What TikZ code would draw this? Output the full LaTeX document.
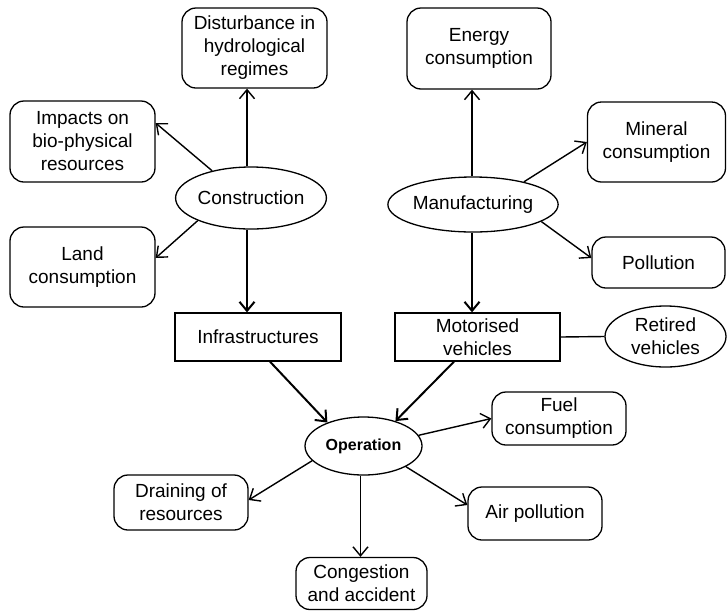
\documentclass[tikz,border=0pt]{standalone}
\usepackage{fontspec}
\setmainfont{Liberation Sans}
\usetikzlibrary{shapes.geometric,arrows.meta}
\begin{document}
\begin{tikzpicture}[x=1pt,y=-1pt,
  font=\fontsize{19}{23}\selectfont,
  rbox/.style={draw,line width=1.3pt,rounded corners=14pt,align=center,inner sep=0pt},
  sbox/.style={draw,line width=1.3pt,align=center,inner sep=0pt},
  ell/.style={draw,line width=1.3pt,ellipse,align=center,inner sep=0pt},
  arr/.style={line width=1.4pt,-{Straight Barb[length=9pt,width=15pt,line width=1.4pt]}},
  tarr/.style={line width=2pt,-{Straight Barb[length=9pt,width=15pt,line width=2pt]}},
  ln/.style={line width=1.4pt}]
\useasboundingbox (0,0) rectangle (727,611);
% nodes
\node[rbox,minimum width=145pt,minimum height=80pt] (dist) at (254.5,48) {Disturbance in\\hydrological\\regimes};
\node[rbox,minimum width=145pt,minimum height=81pt] (imp) at (82.5,141.5) {Impacts on\\bio-physical\\resources};
\node[rbox,minimum width=145pt,minimum height=80pt] (land) at (82.5,267) {Land\\consumption};
\node[ell,minimum width=142pt,minimum height=62pt] (cons) at (251,198) {Construction};
\node[sbox,minimum width=166pt,minimum height=48pt] (infra) at (258,337) {Infrastructures};
\node[ell,minimum width=117pt,minimum height=58pt,font=\fontsize{16}{20}\selectfont\bfseries] (oper) at (363.5,446) {Operation};
\node[rbox,minimum width=134pt,minimum height=55pt] (drain) at (181,502.5) {Draining of\\resources};
\node[rbox,minimum width=131pt,minimum height=52pt] (cong) at (361.5,583.5) {Congestion\\and accident};
\node[rbox,minimum width=144pt,minimum height=81pt] (energy) at (479,48.5) {Energy\\consumption};
\node[rbox,minimum width=138pt,minimum height=80pt] (mineral) at (656.5,142) {Mineral\\consumption};
\node[ell,minimum width=142pt,minimum height=55pt] (manu) at (473,204.5) {Manufacturing};
\node[rbox,minimum width=133pt,minimum height=51pt] (poll) at (658.5,262.5) {Pollution};
\node[sbox,minimum width=165pt,minimum height=48pt] (motor) at (477.5,337) {Motorised\\vehicles};
\node[ell,minimum width=121pt,minimum height=61pt] (ret) at (665.5,336.5) {Retired\\vehicles};
\node[rbox,minimum width=134pt,minimum height=53pt] (fuel) at (559,418.5) {Fuel\\consumption};
\node[rbox,minimum width=134pt,minimum height=53pt] (air) at (535,513.5) {Air pollution};
% connectors
\draw[arr] ([xshift=-4pt]cons.north) -- ([xshift=-4pt]cons.north |- dist.south);
\draw[arr] (cons.145.6) -- ([yshift=18.5pt]imp.east);
\draw[arr] (cons.203) -- ([yshift=9pt]land.east);
\draw[tarr] ([xshift=-4pt]cons.south) -- ([xshift=-4pt]cons.south |- infra.north);
\draw[arr] ([xshift=-1pt]manu.north) -- ([xshift=-1pt]manu.north |- energy.south);
\draw[arr] (manu.24.8) -- (mineral.west);
\draw[arr] (manu.-14.3) -- ([yshift=4.5pt]poll.west);
\draw[tarr] ([xshift=-1pt]manu.south) -- ([xshift=-1pt]manu.south |- motor.north);
\draw[ln] (motor.east) -- (ret.west);
\draw[tarr] ([xshift=12pt]infra.south) -- (oper.147);
\draw[tarr] ([xshift=-23.5pt]motor.south) -- (oper.38);
\draw[arr] (oper.11) -- (fuel.west);
\draw[arr] (oper.-26) -- ([yshift=8.5pt]air.west);
\draw[arr] (oper.196.6) -- ([yshift=2.5pt]drain.east);
\draw[arr] ([xshift=-3pt]oper.south) -- ([xshift=-3pt]oper.south |- cong.north);
\end{tikzpicture}
\end{document}
